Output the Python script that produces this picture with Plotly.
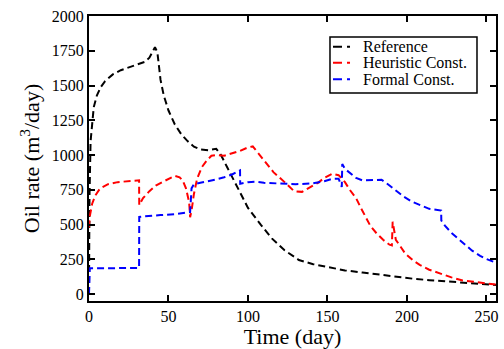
import plotly.graph_objects as go

ref_days = [0, 0.3, 1, 2, 3, 5, 7.5, 10, 15, 20, 25, 30, 35, 38, 41.5, 43, 45, 47, 50, 54, 58, 62, 66, 70, 75, 80, 83, 87, 91, 95, 100, 108, 115, 123, 132, 141, 151, 161, 172, 182, 193, 204, 214, 225, 235, 245, 256]
ref_rate = [0, 700, 1100, 1250, 1345, 1430, 1490, 1530, 1580, 1610, 1630, 1645, 1670, 1700, 1775, 1740, 1540, 1430, 1320, 1220, 1150, 1100, 1060, 1040, 1035, 1045, 1000, 910, 820, 730, 620, 500, 400, 315, 245, 215, 190, 170, 155, 140, 125, 110, 100, 90, 80, 73, 65]

heu_days = [0, 0.5, 2, 4, 7, 12, 18, 24, 30, 31.5, 31.6, 34, 38, 42, 46, 50, 54, 57, 59, 61, 63, 63.6, 64.5, 66, 68, 71, 74, 77, 80, 85, 90, 95, 100, 103, 106, 110, 116, 123, 129, 134, 139, 144, 148, 153, 157, 161, 164, 168, 171, 174, 177, 181, 185, 189, 190.5, 191, 192, 193, 196, 199, 204, 208, 214, 220, 228, 235, 243, 250, 256]
heu_rate = [480, 560, 650, 710, 760, 790, 805, 810, 818, 818, 640, 690, 740, 780, 805, 830, 850, 840, 815, 760, 660, 552, 600, 720, 830, 913, 960, 995, 1000, 995, 1010, 1030, 1055, 1062, 1020, 960, 877, 805, 740, 735, 765, 800, 835, 865, 855, 805, 750, 690, 620, 555, 490, 435, 390, 355, 350, 520, 440, 390, 340, 290, 240, 210, 175, 150, 120, 98, 85, 75, 68]

for_days = [0, 0.5, 2, 10, 20, 31.5, 31.6, 35, 45, 55, 63.5, 63.6, 64.5, 66, 70, 75, 80, 85, 90, 95, 95.1, 100, 105, 110, 120, 130, 140, 148, 153, 157, 159, 159.3, 161, 164, 168, 172, 178, 184, 188, 193, 198, 203, 208, 214, 221.5, 221.6, 224, 228, 232, 236, 241, 246, 250, 256]
for_rate = [0, 185, 185, 185, 186, 188, 555, 560, 568, 575, 590, 590, 760, 790, 800, 810, 825, 840, 860, 890, 793, 805, 808, 800, 793, 790, 795, 812, 829, 830, 770, 935, 900, 870, 835, 817, 820, 822, 790, 745, 700, 665, 640, 613, 601, 529, 490, 440, 400, 360, 312, 275, 252, 225]

series_names = ["Reference", "Heuristic Const.", "Formal Const."]
series_colors = ["black", "red", "blue"]

font = "Liberation Serif"
dash = "7px,4px"

fig = go.Figure()
for name, x, y, c in zip(series_names, [ref_days, heu_days, for_days],
                         [ref_rate, heu_rate, for_rate], series_colors):
    fig.add_trace(go.Scatter(x=x, y=y, mode="lines", name=name, showlegend=False,
                             line=dict(color=c, width=2, dash=dash)))

axis_common = dict(showline=True, linecolor="black", linewidth=2, mirror="allticks",
                   ticks="inside", ticklen=6, tickwidth=1.5, tickcolor="black",
                   showgrid=False, zeroline=False, automargin=False,
                   tickfont=dict(family=font, size=16, color="black"))
fig.update_xaxes(range=[0, 256], dtick=50, tick0=0,
                 title=dict(text="Time (day)", font=dict(family=font, size=22, color="black"), standoff=11),
                 **axis_common)
fig.update_yaxes(range=[-50, 2000], dtick=250, tick0=0,
                 title=dict(text="Oil rate (m<sup>3</sup>/day)", font=dict(family=font, size=22, color="black"), standoff=6),
                 **axis_common)

# legend box drawn in paper coordinates
box = dict(x0=0.5921, x1=0.9533, y0=0.7295, y1=0.9262)
rows_y = [0.8922, 0.8360, 0.7777]
sym_x0, sym_x1, text_x = 0.5995, 0.6413, 0.6676
shapes = [dict(type="rect", xref="paper", yref="paper", line=dict(color="black", width=1.5),
               fillcolor="white", layer="above", **box)]
annotations = []
for name, c, ry in zip(series_names, series_colors, rows_y):
    shapes.append(dict(type="line", xref="paper", yref="paper", x0=sym_x0, x1=sym_x1,
                       y0=ry, y1=ry, line=dict(color=c, width=2, dash="9px,5px"), layer="above"))
    annotations.append(dict(xref="paper", yref="paper", x=text_x, y=ry, text=name,
                            xanchor="left", yanchor="middle", showarrow=False,
                            font=dict(family=font, size=16, color="black")))

fig.update_layout(width=504, height=349, margin=dict(l=89, r=8, t=16, b=48),
                  plot_bgcolor="white", paper_bgcolor="white",
                  font=dict(family=font, color="black"),
                  shapes=shapes, annotations=annotations, showlegend=False)
fig.write_html("out.html")
